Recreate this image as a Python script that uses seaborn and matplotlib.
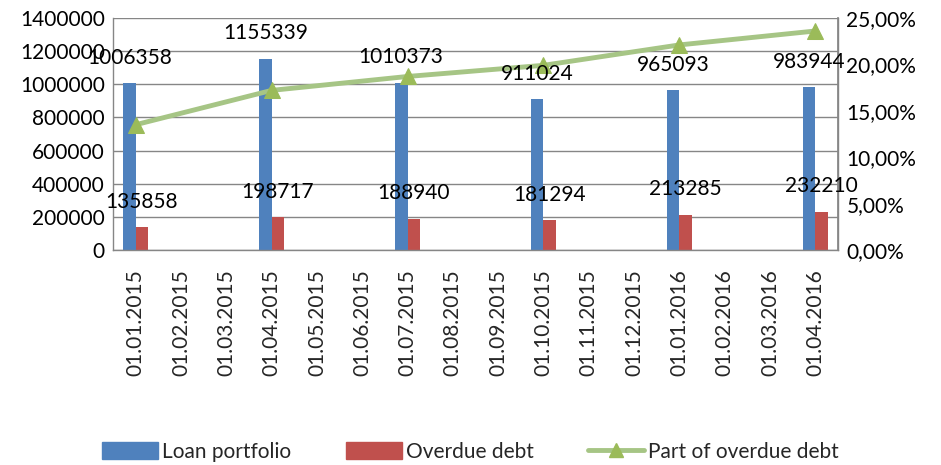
import matplotlib
matplotlib.use("Agg")
import matplotlib.pyplot as plt
import seaborn as sns
import pandas as pd
import numpy as np
from matplotlib.ticker import FuncFormatter, FixedLocator
from matplotlib.lines import Line2D
from matplotlib.patches import Patch

dates = ["01.01.2015", "01.02.2015", "01.03.2015", "01.04.2015", "01.05.2015",
         "01.06.2015", "01.07.2015", "01.08.2015", "01.09.2015", "01.10.2015",
         "01.11.2015", "01.12.2015", "01.01.2016", "01.02.2016", "01.03.2016",
         "01.04.2016"]
report_dates = ["01.01.2015", "01.04.2015", "01.07.2015", "01.10.2015",
                "01.01.2016", "01.04.2016"]
loan_portfolio = [1006358, 1155339, 1010373, 911024, 965093, 983944]
overdue_debt = [135858, 198717, 188940, 181294, 213285, 232210]
overdue_share = [13.50, 17.20, 18.70, 19.90, 22.10, 23.60]
series_names = ["Loan portfolio", "Overdue debt", "Part of overdue debt"]

sns.set_theme(style="white")
plt.rcParams['font.family'] = ['Lato', 'DejaVu Sans']
FS = 15

rows = []
for d, lp, od in zip(report_dates, loan_portfolio, overdue_debt):
    rows.append({"date": d, "series": series_names[0], "value": lp})
    rows.append({"date": d, "series": series_names[1], "value": od})
df = pd.DataFrame(rows)

fig = plt.figure(figsize=(9.41, 4.65), dpi=100)
ax = fig.add_axes([113/941, 1-250/465, (838-113)/941, (250-18)/465])

blue = "#4F81BD"
red = "#C0504D"
green_line = "#A6C585"
green_marker = "#9BBB59"

sns.barplot(data=df, x="date", y="value", hue="series", order=dates,
            hue_order=series_names[:2], palette=[blue, red], width=0.56,
            ax=ax, legend=False, saturation=1, linewidth=0)

ax.set_ylim(0, 1400000)
ax.set_xlim(-0.5, len(dates) - 0.5)
ax.yaxis.set_major_locator(FixedLocator(np.arange(0, 1400001, 200000)))
ax.yaxis.set_major_formatter(FuncFormatter(lambda v, p: f"{int(v)}"))
ax.yaxis.grid(True, color="#868686", linewidth=1)
ax.set_axisbelow(True)
ax.set_xlabel("")
ax.set_ylabel("")
ax.tick_params(axis="y", labelsize=FS, length=0, pad=6, colors="black")
ax.set_xticks(range(len(dates)))
ax.set_xticklabels(dates, rotation=90, fontsize=FS)
ax.tick_params(axis="x", which="major", length=0, pad=14)
ax.set_xticks(np.arange(-0.5, len(dates), 1.0), minor=True)
ax.tick_params(axis="x", which="minor", length=6, color="#868686", width=1)
ax.spines["top"].set_visible(False)
for s in ["left", "right", "bottom"]:
    ax.spines[s].set_color("#868686")
    ax.spines[s].set_linewidth(1)

ax2 = ax.twinx()
pos = [dates.index(d) for d in report_dates]
line_df = pd.DataFrame({"pos": pos, "share": overdue_share})
sns.lineplot(data=line_df, x="pos", y="share", ax=ax2, color=green_line,
             linewidth=3.5, marker="^", markersize=11,
             markerfacecolor=green_marker, markeredgecolor=green_marker)
ax2.set_ylim(0, 25)
ax2.set_xlim(-0.5, len(dates) - 0.5)
ax2.yaxis.set_major_locator(FixedLocator(np.arange(0, 25.01, 5)))
ax2.yaxis.set_major_formatter(FuncFormatter(lambda v, p: f"{v:.2f}%".replace(".", ",")))
ax2.tick_params(axis="y", labelsize=FS, length=0, pad=6, colors="black")
ax2.set_xlabel("")
ax2.set_ylabel("")
ax2.grid(False)
for s in ["top", "left", "bottom"]:
    ax2.spines[s].set_visible(False)
ax2.spines["right"].set_color("#868686")

# data labels (drawn on top of the line)
for cont in ax.containers:
    for bar in cont:
        h = bar.get_height()
        if np.isnan(h) or h == 0:
            continue
        ax2.annotate(f"{int(round(h))}", (bar.get_x() + bar.get_width() / 2, h),
                     xycoords=ax.transData, xytext=(0, 11),
                     textcoords="offset points", ha="center", va="bottom",
                     fontsize=FS, color="black", zorder=10, annotation_clip=False)

handles = [Patch(facecolor=blue, edgecolor=blue),
           Patch(facecolor=red, edgecolor=red),
           Line2D([0], [0], color=green_line, linewidth=3.5, marker="^",
                  markersize=10, markerfacecolor=green_marker,
                  markeredgecolor=green_marker)]
fig.legend(handles, series_names, loc="center", bbox_to_anchor=(0.5, 1-452/465),
           ncol=3, frameon=False, fontsize=FS, handlelength=2.7,
           handleheight=0.9, columnspacing=2.6, handletextpad=0.2)

fig.savefig("out.png", dpi=100)
